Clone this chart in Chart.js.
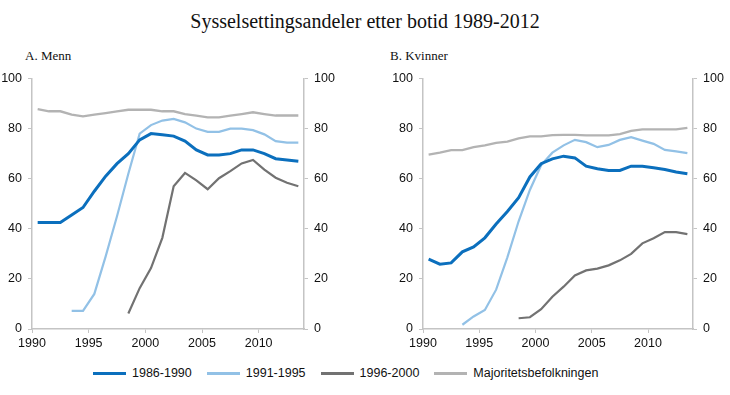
<!DOCTYPE html>
<html>
<head>
<meta charset="utf-8">
<script src="https://cdn.jsdelivr.net/npm/chart.js@4.4.1/dist/chart.umd.min.js"></script>
<style>
  body { margin: 0; background: #fff; width: 730px; height: 395px; position: relative; overflow: hidden; }
  .title { position: absolute; left: 0; width: 730px; top: 10px; text-align: center;
           font-family: 'Liberation Serif', 'Times New Roman', serif; font-size: 20px; color: #111; }
  .panel-label { position: absolute; top: 48px; font-family: 'Liberation Serif', 'Times New Roman', serif;
                 font-size: 13px; color: #111; }
  .box { position: absolute; top: 65px; width: 365px; height: 290px; }
  #legend { position: absolute; top: 366px; left: 93px; display: flex;
            font-family: 'Liberation Sans', Arial, sans-serif; font-size: 12.5px; color: #111; }
  .item { display: flex; align-items: center; margin-right: 15px; }
  .swatch { width: 33px; height: 3px; margin-right: 6px; }
</style>
</head>
<body>
<div class="title">Sysselsettingsandeler etter botid 1989-2012</div>
<div class="panel-label" style="left:25px">A. Menn</div>
<div class="panel-label" style="left:390px">B. Kvinner</div>
<div class="box" style="left:0"><canvas id="menn"></canvas></div>
<div class="box" style="left:365px"><canvas id="kvinner"></canvas></div>
<div id="legend"></div>
<script>
const years = [1990, 1991, 1992, 1993, 1994, 1995, 1996, 1997, 1998, 1999, 2000, 2001,
               2002, 2003, 2004, 2005, 2006, 2007, 2008, 2009, 2010, 2011, 2012, 2013];
const seriesNames = ['1986-1990', '1991-1995', '1996-2000', 'Majoritetsbefolkningen'];
const seriesColors = ['#0b6fbd', '#92c1e6', '#727272', '#b3b3b3'];
const yTicks = [0, 20, 40, 60, 80, 100];
const xTicks = [1990, 1995, 2000, 2005, 2010];

// A. Menn
const menn8690 = [42.5, 42.5, 42.5, 45.5, 48.5, 55, 61, 66, 70, 75.5, 78, 77.5,
                  77, 75, 71.5, 69.5, 69.5, 70, 71.5, 71.5, 70, 68, 67.5, 67];
const menn9195 = [null, null, null, 7.2, 7.2, 14, 29, 45, 62, 78, 81.4, 83.2,
                  83.9, 82.5, 80, 78.7, 78.7, 80, 80, 79.4, 77.7, 75, 74.4, 74.4];
const menn9600 = [null, null, null, null, null, null, null, null, 6.2, 16.3, 24.3, 36.4,
                  57, 62.3, 59.3, 55.8, 60.2, 63, 66.1, 67.5, 63.6, 60.4, 58.4, 57];
const mennMaj  = [87.8, 86.9, 86.9, 85.6, 84.9, 85.6, 86.2, 86.9, 87.5, 87.5, 87.5, 86.9,
                  86.9, 85.8, 85.2, 84.5, 84.5, 85.2, 85.8, 86.5, 85.8, 85.2, 85.2, 85.2];

// B. Kvinner
const kvinner8690 = [27.9, 25.9, 26.4, 30.8, 32.8, 36.4, 41.9, 46.9, 52.4, 60.7, 66, 67.9,
                     69, 68.3, 65, 64, 63.3, 63.3, 65, 65, 64.4, 63.7, 62.7, 62];
const kvinner9195 = [null, null, null, 1.7, 5, 7.6, 15.7, 28.6, 43, 55.5, 65.4, 70.4,
                     73.3, 75.5, 74.6, 72.6, 73.5, 75.5, 76.6, 75.2, 73.9, 71.5, 70.9, 70.2];
const kvinner9600 = [null, null, null, null, null, null, null, null, 4.3, 4.7, 7.9, 12.9,
                     16.9, 21.4, 23.4, 24.1, 25.4, 27.4, 30, 34.2, 36.2, 38.7, 38.7, 37.9];
const kvinnerMaj  = [69.6, 70.4, 71.4, 71.4, 72.6, 73.3, 74.3, 74.8, 76.1, 76.9, 76.9, 77.4,
                     77.5, 77.5, 77.3, 77.3, 77.3, 77.8, 79.1, 79.7, 79.7, 79.7, 79.7, 80.3];

const tickFont = { family: "'Liberation Sans', Arial, sans-serif", size: 12.5 };
const axisGrey = '#c4c4c4';

function yScale(position, width, pad) {
    return {
        position: position,
        min: 0, max: 100,
        afterBuildTicks: s => { s.ticks = yTicks.map(v => ({ value: v })); },
        afterFit: s => { s.width = width; },
        border: { color: axisGrey, width: 1.5 },
        grid: { drawOnChartArea: false, tickLength: 4, color: axisGrey },
        ticks: { font: tickFont, color: '#111', padding: pad }
    };
}

function makePanel(id, values, leftW, rightW) {
    const widths = [3, 2.2, 2.2, 2.4];
    new Chart(document.getElementById(id), {
        type: 'line',
        data: {
            datasets: values.map((vals, i) => ({
                label: seriesNames[i],
                // points sit mid-year between the year ticks
                data: years.map((yr, j) => ({ x: yr + 0.5, y: vals[j] })),
                borderColor: seriesColors[i],
                borderWidth: widths[i],
                pointRadius: 0,
                tension: 0,
                spanGaps: false
            }))
        },
        options: {
            responsive: true,
            maintainAspectRatio: false,
            animation: false,
            layout: { padding: { top: 10, right: 0, left: 0, bottom: 0 } },
            plugins: { legend: { display: false }, tooltip: { enabled: false } },
            scales: {
                x: {
                    type: 'linear',
                    min: 1990, max: 2014,
                    afterBuildTicks: s => { s.ticks = xTicks.map(v => ({ value: v })); },
                    afterFit: s => { s.height = 26; },
                    border: { color: axisGrey, width: 1.5 },
                    grid: { drawOnChartArea: false, tickLength: 4, color: axisGrey },
                    ticks: { font: tickFont, color: '#111', padding: 3, maxRotation: 0,
                             callback: v => String(v) }
                },
                y: yScale('left', leftW, 6),
                y2: yScale('right', rightW, 6)
            }
        }
    });
}

makePanel('menn', [menn8690, menn9195, menn9600, mennMaj], 32, 61);
makePanel('kvinner', [kvinner8690, kvinner9195, kvinner9600, kvinnerMaj], 58, 37);

const legend = document.getElementById('legend');
seriesNames.forEach((name, i) => {
    const item = document.createElement('div');
    item.className = 'item';
    item.innerHTML = `<span class="swatch" style="background:${seriesColors[i]}"></span>${name}`;
    legend.appendChild(item);
});
</script>
</body>
</html>
